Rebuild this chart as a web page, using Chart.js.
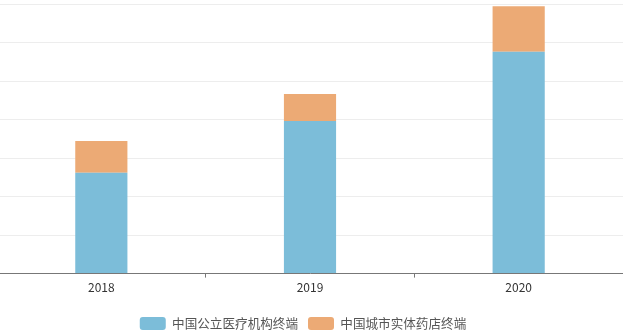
<!DOCTYPE html>
<html>
<head>
    <meta charset="utf-8">
    <script src="https://cdn.jsdelivr.net/npm/chart.js@4.4.1/dist/chart.umd.min.js"></script>
    <style>
        html, body { margin: 0; padding: 0; background: #fff; overflow: hidden; }
        #wrap { position: absolute; left: -17px; top: 0; width: 640px; height: 336px; }
    </style>
</head>
<body>
<div id="wrap">
    <canvas id="myChart"></canvas>
</div>

<script>
    const years = ["2018", "2019", "2020"];
    const seriesNames = ["中国公立医疗机构终端", "中国城市实体药店终端"];
    const publicHospital = [131, 198, 288];
    const retailPharmacy = [41, 35, 59];
    const barColors = ["#7cbdd9", "#ecaa75"];

    const font = "'Noto Sans CJK SC', 'Noto Sans', sans-serif";

    let myChart = new Chart("myChart", {
        type: "bar",
        data: {
            labels: years,
            datasets: [{
                label: seriesNames[0],
                backgroundColor: barColors[0],
                data: publicHospital
            }, {
                label: seriesNames[1],
                backgroundColor: barColors[1],
                data: retailPharmacy
            }]
        },
        options: {
            responsive: true,
            maintainAspectRatio: false,
            animation: false,
            layout: { padding: { top: 4, right: 0, bottom: -4, left: 0 } },
            datasets: {
                bar: { categoryPercentage: 0.5, barPercentage: 0.5 }
            },
            scales: {
                x: {
                    stacked: true,
                    border: { color: "#777", width: 1 },
                    grid: { drawOnChartArea: false, color: "#777", tickLength: 4 },
                    ticks: { color: "#333", font: { family: font, size: 12 }, padding: 3 },
                    afterFit: (axis) => { axis.height += 9; }
                },
                y: {
                    stacked: true,
                    min: 0,
                    max: 350,
                    border: { display: false },
                    grid: { color: "#ededed", drawTicks: false },
                    ticks: { display: false, stepSize: 50 },
                    afterFit: (axis) => { axis.width = 14; }
                }
            },
            plugins: {
                tooltip: { enabled: false },
                legend: {
                    position: "bottom",
                    labels: {
                        boxWidth: 26,
                        boxHeight: 13,
                        padding: 10,
                        useBorderRadius: true,
                        borderRadius: 3,
                        color: "#555",
                        font: { family: font, size: 12.6 }
                    }
                }
            }
        }
    });
</script>
</body>
</html>
